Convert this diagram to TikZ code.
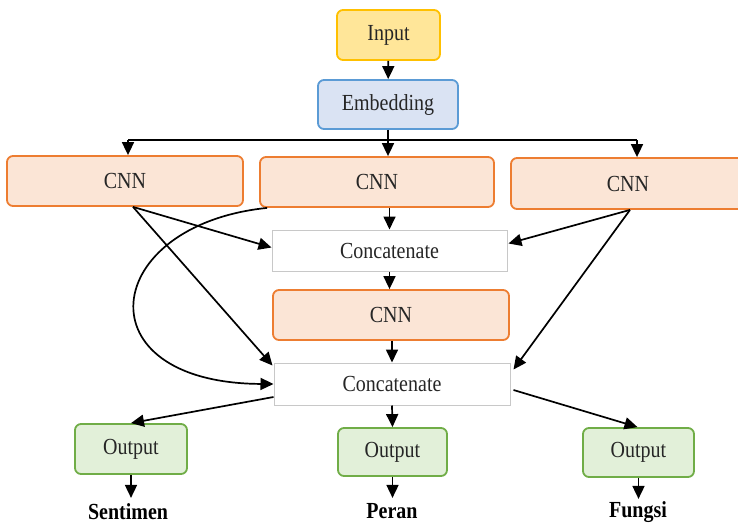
\documentclass[tikz,border=0pt]{standalone}
\usepackage{fontspec}
\setmainfont{Liberation Serif}
\usetikzlibrary{arrows.meta}

\definecolor{inFill}{HTML}{FFE699}
\definecolor{inLine}{HTML}{FFC000}
\definecolor{emFill}{HTML}{DAE3F3}
\definecolor{emLine}{HTML}{5B9BD5}
\definecolor{cnFill}{HTML}{FBE5D6}
\definecolor{cnLine}{HTML}{ED7D31}
\definecolor{outFill}{HTML}{E2F0D9}
\definecolor{outLine}{HTML}{70AD47}
\definecolor{catLine}{HTML}{C8C8C8}

% slightly tall lettering
\newcommand{\tallt}[1]{\scalebox{1}[1.15]{#1}}

\tikzset{
  box/.style={rectangle, rounded corners=6pt, line width=1.8pt, inner sep=0pt,
              text=black!85, font=\fontsize{20}{24}\selectfont},
  inbox/.style={box, fill=inFill, draw=inLine},
  embox/.style={box, fill=emFill, draw=emLine},
  cnnbox/.style={box, fill=cnFill, draw=cnLine},
  outbox/.style={box, fill=outFill, draw=outLine},
  catbox/.style={rectangle, fill=white, draw=catLine, line width=1pt, inner sep=0pt,
                 text=black!85, font=\fontsize{20}{24}\selectfont},
  lbl/.style={inner sep=0pt, font=\fontsize{20}{24}\selectfont\bfseries},
  arr/.style={line width=1.7pt, -{Triangle[length=13pt,width=12pt]}},
  ln/.style={line width=1.7pt}
}

\begin{document}
\begin{tikzpicture}[x=1pt,y=-1pt]
\useasboundingbox (0,0) rectangle (738,525);

% blocks
\node[inbox, minimum width=103pt, minimum height=50pt] (inp) at (388.5,35) {\tallt{Input}};
\node[embox, minimum width=140pt, minimum height=49pt] (emb) at (388,104.5) {\tallt{Embedding}};
\node[cnnbox, minimum width=236pt, minimum height=50pt] (cnn1) at (125,181) {\tallt{CNN}};
\node[cnnbox, minimum width=234pt, minimum height=50pt] (cnn2) at (377,182) {\tallt{CNN}};
\node[cnnbox, minimum width=234pt, minimum height=51pt] (cnn3) at (628,183.5) {\tallt{CNN}};
\node[catbox, minimum width=235pt, minimum height=41pt] (cat1) at (389.5,250.5) {\tallt{Concatenate}};
\node[cnnbox, minimum width=236pt, minimum height=50pt] (cnn4) at (391,315) {\tallt{CNN}};
\node[catbox, minimum width=236pt, minimum height=42pt] (cat2) at (392,384) {\tallt{Concatenate}};
\node[outbox, minimum width=112pt, minimum height=50pt] (out1) at (131,449) {\tallt{Output}};
\node[outbox, minimum width=109pt, minimum height=48pt] (out2) at (392.5,452) {\tallt{Output}};
\node[outbox, minimum width=111pt, minimum height=49pt] (out3) at (638.5,452.5) {\tallt{Output}};

% task labels
\node[lbl] (l1) at (128,511.5) {\tallt{Sentimen}};
\node[lbl] (l2) at (392,511) {\tallt{Peran}};
\node[lbl] (l3) at (638,512.5) {\tallt{Fungsi}};

% distribution bus below the embedding
\coordinate (busL) at (128,140);
\coordinate (busR) at (637,140);
\coordinate (busM) at (388,140);

\draw[arr] (inp) -- (emb);
\draw[ln] (emb.south) -- (busM);
\draw[ln] (busL) -- (busR);
\draw[arr] (busL) -- (busL |- cnn1.north);
\draw[arr] (busM) -- (busM |- cnn2.north);
\draw[arr] (busR) -- (busR |- cnn3.north);

% first CNN branch
\coordinate (c1o) at ([xshift=8pt]cnn1.south);
\draw[arr] (c1o) -- ([yshift=3pt]cat1.west);
\draw[arr] (c1o) -- ([xshift=-1pt,yshift=-3pt]cat2.north west);

% second CNN branch
\draw[arr] (cat1.north |- cnn2.south) -- (cat1.north);
\coordinate (c2o) at ([xshift=8pt]cnn2.south west);
\draw[arr] (c2o) .. controls (100,225) and (80,383) .. (cat2.west);

% third CNN branch
\coordinate (c3o) at ([xshift=2pt]cnn3.south);
\draw[arr] (c3o) -- ([xshift=1pt,yshift=7pt]cat1.east);
\draw[arr] (c3o) -- ([xshift=3pt,yshift=-7pt]cat2.north east);

% merge path
\draw[arr] (cat1.south) -- (cat1.south |- cnn4.north);
\draw[arr] (cat2.north |- cnn4.south) -- (cat2.north);

% heads
\draw[arr] ([yshift=-13pt]cat2.west) -- (out1.north);
\draw[arr] (cat2.south) -- (out2.north);
\draw[arr] ([xshift=3pt,yshift=-6pt]cat2.east) -- ([xshift=-1pt]out3.north);

\draw[arr] (out1.south) -- ++(0,23);
\draw[arr] (out2.south) -- ++(0,21);
\draw[arr] (out3.south) -- ++(0,21);
\end{tikzpicture}
\end{document}
